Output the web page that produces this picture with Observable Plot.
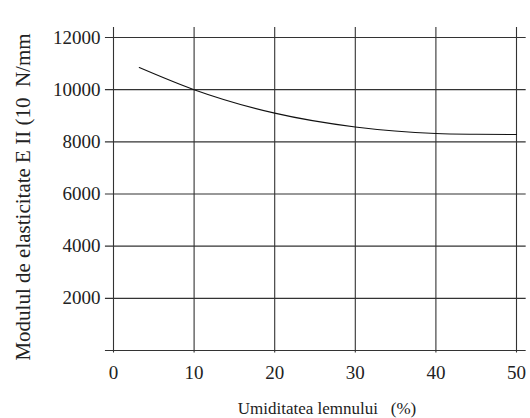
<!DOCTYPE html>
<html>
<head>
<meta charset="utf-8">
<script src="https://cdn.jsdelivr.net/npm/d3@7"></script>
<script src="https://cdn.jsdelivr.net/npm/@observablehq/plot@0.6"></script>
<style>
  html, body { margin: 0; padding: 0; background: #fff; }
</style>
</head>
<body>
<div id="chart"></div>
<script>
const moisture = [3.2, 10, 20, 30, 40, 45, 50];
const modulus = [10850, 10000, 9100, 8570, 8320, 8290, 8280];
const xTicks = [0, 10, 20, 30, 40, 50];
const yGrid = [0, 2000, 4000, 6000, 8000, 10000, 12000];
const yTickLabels = [2000, 4000, 6000, 8000, 10000, 12000];
const xGridExtent = [-1, 51.2];
const yGridExtent = [-100, 12380];
const xTitle = ["Umiditatea lemnului\u00a0\u00a0\u00a0(%)"];
const yTitle = ["Modulul de elasticitate E II (10\u00a0\u00a0N/mm"];

const curve = moisture.map((m, i) => ({m, v: modulus[i]}));
const gridColor = "#333";

const chart = Plot.plot({
  width: 530,
  height: 418,
  marginLeft: 113,
  marginRight: 14,
  marginTop: 37,
  marginBottom: 68,
  x: {domain: [0, 50]},
  y: {domain: [0, 12000]},
  style: {fontFamily: "'Liberation Serif', 'Times New Roman', serif", fontSize: "19px", background: "#fff", color: "#222"},
  marks: [
    Plot.ruleY(yGrid, {y: d => d, x1: xGridExtent[0], x2: xGridExtent[1], stroke: gridColor, strokeWidth: 1.1}),
    Plot.ruleX(xTicks, {x: d => d, y1: yGridExtent[0], y2: yGridExtent[1], stroke: gridColor, strokeWidth: 1.1}),
    Plot.axisY(yTickLabels, {tickSize: 0, tickPadding: 13, label: null, fontSize: 19, tickFormat: d => String(d)}),
    Plot.axisX(xTicks, {tickSize: 0, tickPadding: 15, label: null, fontSize: 19, tickFormat: d => String(d)}),
    Plot.line(curve, {x: "m", y: "v", curve: "monotone-x", stroke: "#111", strokeWidth: 1.1}),
    Plot.text(xTitle, {frameAnchor: "bottom", text: d => d, dy: 58, dx: 12, fontSize: 17, textAnchor: "middle", lineAnchor: "middle", fill: "#222"}),
    Plot.text(yTitle, {frameAnchor: "left", text: d => d, rotate: -90, dx: -90, dy: 3, fontSize: 21, textAnchor: "middle", lineAnchor: "middle", fill: "#222"})
  ]
});
document.getElementById("chart").appendChild(chart);
</script>
</body>
</html>
